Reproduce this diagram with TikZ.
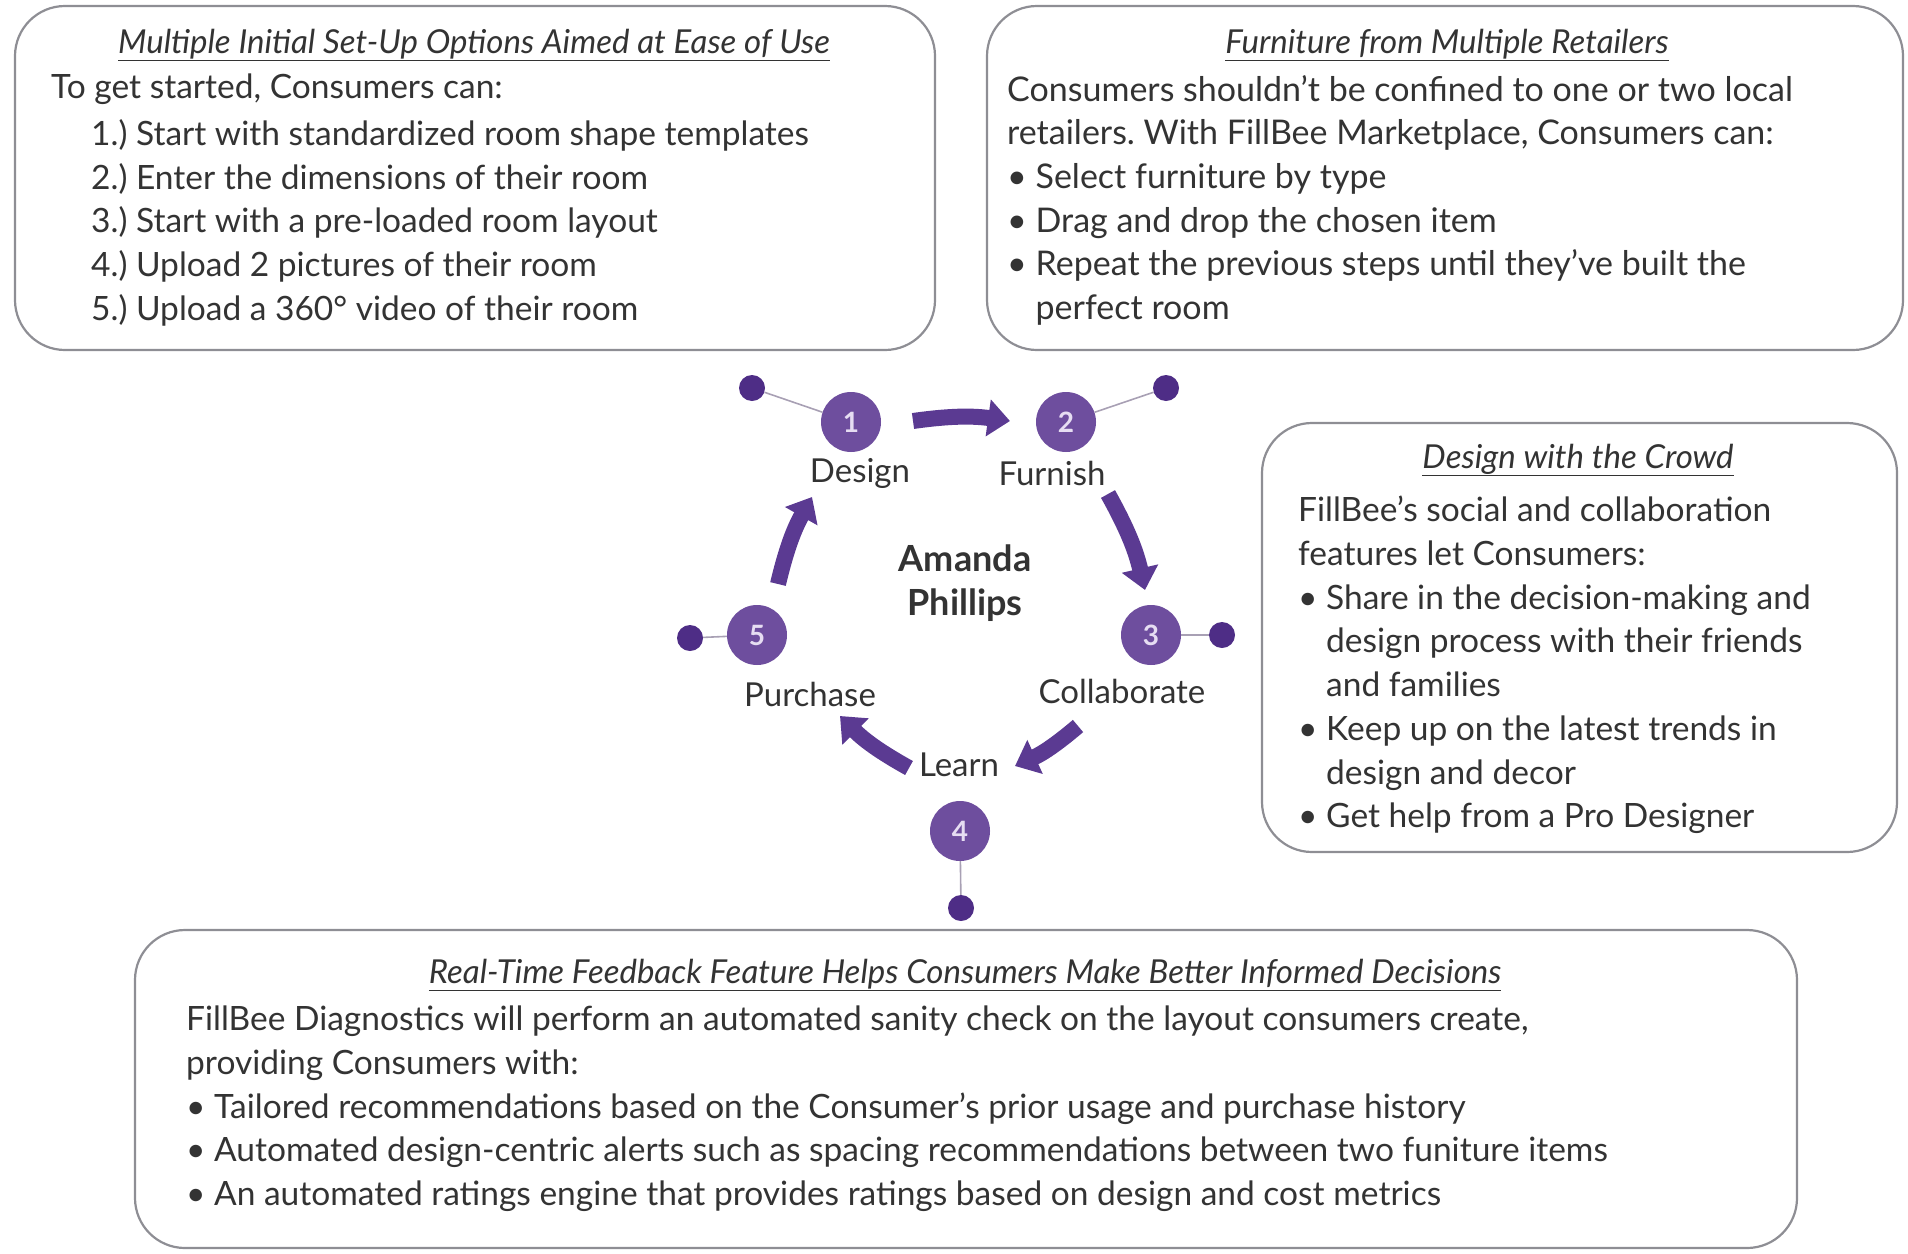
\documentclass[tikz,border=0pt]{standalone}
\usepackage{fontspec}
\setmainfont{Lato}
\usetikzlibrary{arrows.meta}
\definecolor{ink}{HTML}{333333}
\definecolor{frame}{HTML}{8E8E94}
\definecolor{circ}{HTML}{6E4E9E}
\definecolor{arr}{HTML}{5B3A92}
\definecolor{dotc}{HTML}{4E2D86}
\definecolor{numc}{HTML}{E6DDF2}
\definecolor{linkc}{HTML}{A8A0B4}
\newcommand{\bulletgap}{\hphantom{• }}

\begin{document}
\frenchspacing
\begin{tikzpicture}[x=1pt,y=-1pt,
  panel/.style={draw=frame, line width=2.2pt, rounded corners=50pt, fill=white},
  ptitle/.style={text=ink, font=\fontsize{33}{33}\selectfont\itshape},
  body/.style={text=ink, align=left, anchor=north west, inner sep=0pt,
               font=\fontsize{33.5}{43.7}\selectfont},
  stepc/.style={circle, fill=circ, minimum size=60pt, inner sep=0pt,
                text=numc, font=\fontsize{28}{28}\selectfont\bfseries},
  dotn/.style={circle, fill=dotc, minimum size=26pt, inner sep=0pt},
  link/.style={draw=linkc, line width=1.6pt},
  lbl/.style={text=ink, font=\fontsize{33}{33}\selectfont},
  flow/.style={draw=arr, line width=16pt,
               -{Triangle[width=36pt,length=22pt]}}]
\useasboundingbox (0,0) rectangle (1908,1253);

% ---- text panels ----
\draw[panel] (15,6) rectangle (935,350);
\draw[panel] (987,6) rectangle (1903,350);
\draw[panel] (1262,423) rectangle (1897,852);
\draw[panel] (135,930) rectangle (1797,1248);

% panel 1: set-up options
\node[ptitle] (t1) at (474,45) {\underline{Multiple Initial Set-Up Options Aimed at Ease of Use}};
\node[body] (b1) at (51,74) {To get started, Consumers can:\\[3pt]
\hspace*{40pt}1.) Start with standardized room shape templates\\
\hspace*{40pt}2.) Enter the dimensions of their room\\
\hspace*{40pt}3.) Start with a pre-loaded room layout\\
\hspace*{40pt}4.) Upload 2 pictures of their room\\
\hspace*{40pt}5.) Upload a 360° video of their room};

% panel 2: marketplace
\node[ptitle] (t2) at (1447,45) {\underline{Furniture from Multiple Retailers}};
\node[body, font=\fontsize{34}{43.7}\selectfont] (b2) at (1007,75) {Consumers shouldn't be confined to one or two local\\
retailers. With FillBee Marketplace, Consumers can:\\
• Select furniture by type\\
• Drag and drop the chosen item\\
• Repeat the previous steps until they've built the\\
\bulletgap perfect room};

% panel 3: social features
\node[ptitle] (t3) at (1578,460) {\underline{Design with the Crowd}};
\node[body] (b3) at (1298,496) {FillBee's social and collaboration\\
features let Consumers:\\
• Share in the decision-making and\\
\bulletgap design process with their friends\\
\bulletgap and families\\
• Keep up on the latest trends in\\
\bulletgap design and decor\\
• Get help from a Pro Designer};

% panel 4: diagnostics
\node[ptitle] (t4) at (965,975) {\underline{Real-Time Feedback Feature Helps Consumers Make Better Informed Decisions}};
\node[body] (b4) at (186,1006) {FillBee Diagnostics will perform an automated sanity check on the layout consumers create,\\
providing Consumers with:\\
• Tailored recommendations based on the Consumer's prior usage and purchase history\\
• Automated design-centric alerts such as spacing recommendations between two funiture items\\
• An automated ratings engine that provides ratings based on design and cost metrics};

% ---- cycle ----
\node[dotn] (d1) at (752,388) {};
\node[dotn] (d2) at (1166,388) {};
\node[dotn] (d3) at (1222,635) {};
\node[dotn] (d4) at (961,908) {};
\node[dotn] (d5) at (690,638) {};

\node[stepc] (s1) at (851,422) {1};
\node[stepc] (s2) at (1066,422) {2};
\node[stepc] (s3) at (1151,635) {3};
\node[stepc] (s4) at (960,831) {4};
\node[stepc] (s5) at (757,635) {5};

\draw[link] (s1) -- (d1);
\draw[link] (s2) -- (d2);
\draw[link] (s3) -- (d3);
\draw[link] (s4) -- (d4);
\draw[link] (s5) -- (d5);

\node[lbl] (l1) at (860,473) {Design};
\node[lbl] (l2) at (1052,473) {Furnish};
\node[lbl] (l3) at (1122,691) {Collaborate};
\node[lbl] (l4) at (959,765) {Learn};
\node[lbl] (l5) at (810,694) {Purchase};

\node[text=ink, align=center, font=\fontsize{36}{44}\selectfont\bfseries] (who) at (965,583) {Amanda\\Phillips};

\coordinate (a1s) at (913,421);
\coordinate (a1e) at (1010,421);
\coordinate (a2s) at (1108,494);
\coordinate (a2e) at (1145,590);
\coordinate (a3s) at (1078,726);
\coordinate (a3e) at (1015,766);
\coordinate (a4s) at (909,768);
\coordinate (a4e) at (840,716);
\coordinate (a5s) at (778,584);
\coordinate (a5e) at (812,497);

\draw[flow] (a1s) to[bend left=8] (a1e);
\draw[flow] (a2s) to[bend left=8] (a2e);
\draw[flow] (a3s) to[bend left=8] (a3e);
\draw[flow] (a4s) to[bend left=8] (a4e);
\draw[flow] (a5s) to[bend left=8] (a5e);
\end{tikzpicture}
\end{document}
